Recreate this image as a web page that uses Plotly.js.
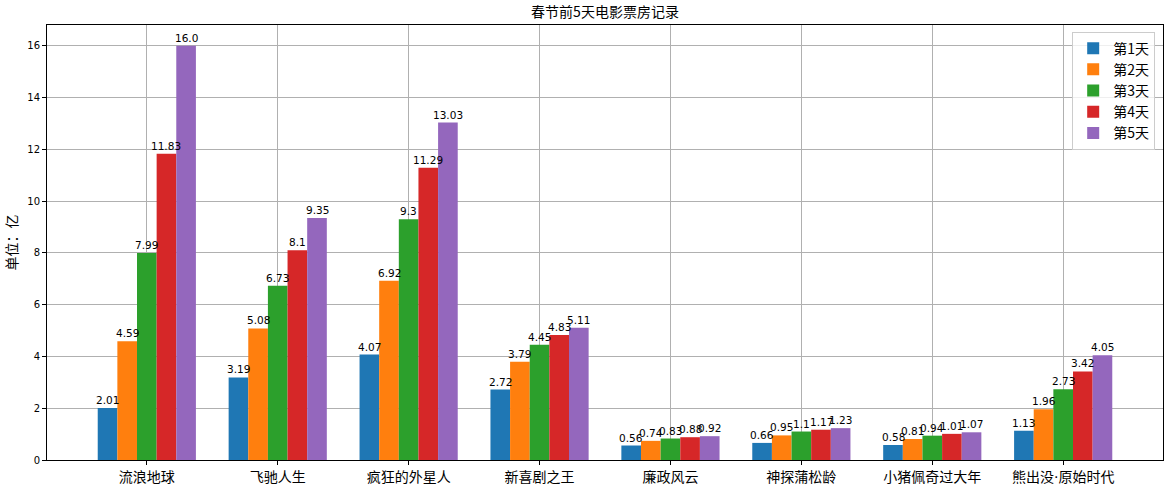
<!DOCTYPE html>
<html>
<head>
<meta charset="utf-8">
<script src="https://cdn.plot.ly/plotly-3.0.1.min.js"></script>
<style>html,body{margin:0;padding:0;background:#fff;}</style>
</head>
<body>
<div id="chart" style="width:1173px;height:490px;"></div>
<script>
const categories = ["流浪地球", "飞驰人生", "疯狂的外星人", "新喜剧之王", "廉政风云", "神探蒲松龄", "小猪佩奇过大年", "熊出没·原始时代"];
const seriesNames = ["第1天", "第2天", "第3天", "第4天", "第5天"];
const day1 = [2.01, 3.19, 4.07, 2.72, 0.56, 0.66, 0.58, 1.13];
const day2 = [4.59, 5.08, 6.92, 3.79, 0.74, 0.95, 0.81, 1.96];
const day3 = [7.99, 6.73, 9.3, 4.45, 0.83, 1.1, 0.94, 2.73];
const day4 = [11.83, 8.1, 11.29, 4.83, 0.88, 1.17, 1.01, 3.42];
const day5 = [16.0, 9.35, 13.03, 5.11, 0.92, 1.23, 1.07, 4.05];
const yTicks = [0, 2, 4, 6, 8, 10, 12, 14, 16];

const colors = ["#1f77b4", "#ff7f0e", "#2ca02c", "#d62728", "#9467bd"];
const allSeries = [day1, day2, day3, day4, day5];
const barW = 0.15;

function fmt(v) {
  return Number.isInteger(v) ? v.toFixed(1) : String(v);
}

const tickIdx = categories.map((c, i) => i);
const tickText = categories.map(c => c.replace("·", '<span style="font-family:DejaVu Sans">·</span>'));

const traces = allSeries.map((vals, i) => ({
  type: "bar",
  name: seriesNames[i],
  x: tickIdx,
  y: vals,
  width: barW,
  offset: -2.5 * barW + barW * i,
  marker: { color: colors[i], line: { width: 0 } },
  hoverinfo: "skip"
}));

const annotations = [];
allSeries.forEach((vals, i) => {
  vals.forEach((v, j) => {
    annotations.push({
      x: j - 2 * barW + barW * i,
      y: v,
      xref: "x", yref: "y",
      text: fmt(v),
      showarrow: false,
      xanchor: "center",
      yanchor: "bottom",
      yshift: 0,
      font: { family: "DejaVu Sans", size: 10.5, color: "#000" }
    });
  });
});

const cjk = "Noto Sans CJK SC, DejaVu Sans, sans-serif";

const layout = {
  width: 1173,
  height: 490,
  margin: { l: 47, r: 10, t: 25, b: 30 },
  paper_bgcolor: "#fff",
  plot_bgcolor: "#fff",
  barmode: "overlay",
  annotations: annotations,
  title: {
    text: "春节前5天电影票房记录",
    font: { family: cjk, size: 14, color: "#000" },
    x: 0.5, xref: "paper", xanchor: "center",
    y: 0.985, yref: "container", yanchor: "top"
  },
  xaxis: {
    range: [-0.7625, 7.7625],
    tickvals: tickIdx,
    ticktext: tickText,
    showgrid: true,
    gridcolor: "#b0b0b0",
    gridwidth: 1,
    showline: true,
    linecolor: "#000",
    linewidth: 1,
    mirror: true,
    ticks: "outside",
    ticklen: 4,
    tickcolor: "#000",
    tickfont: { family: cjk, size: 14, color: "#000" },
    zeroline: false
  },
  yaxis: {
    range: [0, 16.8],
    tickvals: yTicks,
    ticktext: yTicks.map(String),
    showgrid: true,
    gridcolor: "#b0b0b0",
    gridwidth: 1,
    showline: true,
    linecolor: "#000",
    linewidth: 1,
    mirror: true,
    ticks: "outside",
    ticklen: 4,
    tickcolor: "#000",
    tickfont: { family: "DejaVu Sans", size: 10, color: "#000" },
    zeroline: false,
    title: {
      text: "单位：亿",
      font: { family: cjk, size: 14, color: "#000" },
      standoff: 6
    }
  },
  legend: {
    x: 0.993, xanchor: "right",
    y: 0.985, yanchor: "top",
    bgcolor: "rgba(255,255,255,0.8)",
    bordercolor: "#cccccc",
    borderwidth: 1,
    font: { family: cjk, size: 14, color: "#000" },
    tracegroupgap: 2
  },
  showlegend: true
};

Plotly.newPlot("chart", traces, layout, { displayModeBar: false, staticPlot: true });
</script>
</body>
</html>
